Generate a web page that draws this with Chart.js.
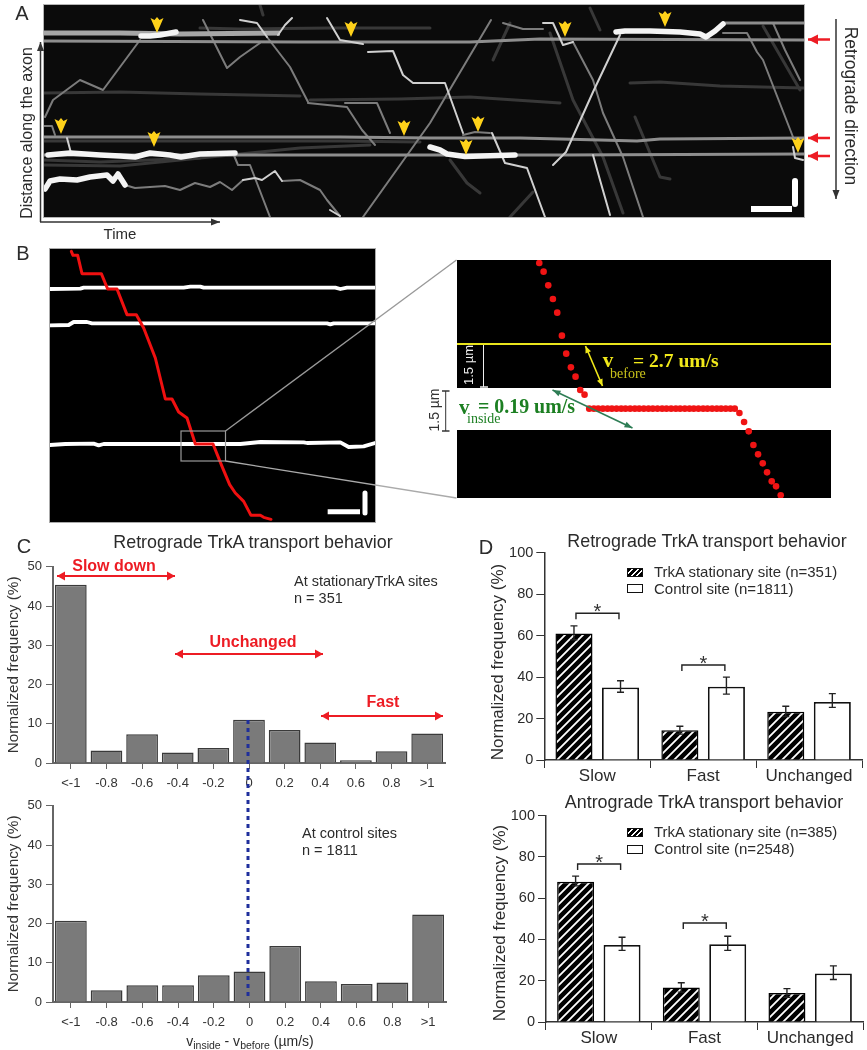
<!DOCTYPE html>
<html>
<head>
<meta charset="utf-8">
<script src="https://cdn.jsdelivr.net/npm/chart.js@4/dist/chart.umd.min.js"></script>
<style>
  html, body { margin: 0; padding: 0; background: #fff; }
  #page { position: relative; width: 867px; height: 1050px; overflow: hidden; font-family: "Liberation Sans", Arial, sans-serif; color: #2b2b2b; }
  #page canvas { position: absolute; }
  #page svg { position: absolute; left: 0; top: 0; z-index: 5; }
  .txt { position: absolute; white-space: nowrap; z-index: 6; line-height: 1; }
  .swatch { position: absolute; width: 14px; height: 7px; border: 1px solid #111; z-index: 6; box-sizing: content-box; }
  .hatched { background: repeating-linear-gradient(135deg, #000 0 2.5px, #fff 2.5px 4px); }
  .block { position: absolute; background: #000; }
  sub { font-size: 0.75em; vertical-align: -0.3em; line-height: 0; }
</style>
</head>
<body>
<div id="page"></div>
<script>
// panel C
const binLabels = ['<-1', '-0.8', '-0.6', '-0.4', '-0.2', '0', '0.2', '0.4', '0.6', '0.8', '>1']
const stationaryFreq = [45.4, 3.2, 7.3, 2.7, 3.8, 11, 8.4, 5.2, 0.7, 3, 7.5]
const controlFreq = [20.7, 3, 4.3, 4.3, 6.8, 7.8, 14.3, 5.3, 4.6, 5, 22.3]

// panel D
const behaviours = ['Slow', 'Fast', 'Unchanged']
const retroStationary = [61, 14.3, 23.3]
const retroStationaryHigh = [64.7, 16.3, 25.9]
const retroStationaryLow = [58, 12.5, 21]
const retroControl = [35, 35.3, 28]
const retroControlHigh = [38.2, 40, 32]
const retroControlLow = [32.7, 31.8, 25.4]
const retroBrackets = [70.8, 45.8, null]
const anteroStationary = [68, 16.7, 14]
const anteroStationaryHigh = [70.7, 19, 16.2]
const anteroStationaryLow = [66, 14.5, 12]
const anteroControl = [37.3, 37.7, 23.5]
const anteroControlHigh = [41.1, 41.6, 27.2]
const anteroControlLow = [34.7, 34.7, 20.6]
const anteroBrackets = [76.6, 48, null]

// panel A kymograph (time, distance)
const aFaintTracks = [
  [[44,93],[120,92],[200,94],[300,96]],
  [[310,100],[400,99],[470,97],[560,103]],
  [[630,83],[660,82],[720,86],[804,88]],
  [[200,28],[240,29],[330,28],[430,28]],
  [[44,160],[100,162],[150,160],[200,158]],
  [[44,165],[120,166],[180,160],[300,148],[370,145]],
  [[44,141],[200,141],[340,141],[420,142]],
  [[493,60],[510,23]],
  [[450,160],[467,183],[480,193]],
  [[533,192],[510,217]],
  [[635,117],[660,177],[670,179]],
  [[763,26],[800,90]],
  [[550,33],[573,100],[603,157],[623,213]],
  [[260,5],[263,15]],
  [[590,8],[600,30]]
]
const aMidTracks = [
  [[363,217],[430,123],[491,20]],
  [[45,117],[53,100],[80,80],[103,90],[140,40]],
  [[203,20],[227,68],[240,57],[260,43]],
  [[267,37],[290,67],[308,102]],
  [[308,103],[347,107],[362,130],[375,145]],
  [[345,103],[377,103],[390,133]],
  [[233,153],[238,165],[250,165],[270,217]],
  [[125,185],[135,188],[150,187],[165,186],[180,190],[195,183],[210,187],[220,182],[232,190],[243,180]],
  [[282,181],[300,180],[320,190],[327,200],[340,216]],
  [[503,23],[523,29],[543,29]],
  [[573,42],[593,80],[603,113],[623,157],[643,217]],
  [[723,33],[747,33],[757,52],[763,60],[793,137]],
  [[773,23],[785,50],[800,80]],
  [[463,135],[475,132],[490,133]],
  [[44,126],[52,126],[55,135]]
]
const aBandTracks = [
  [[44,33],[62,33],[120,33],[180,34],[280,33]]
]
const aStationaryTracks = [
  [[44,41],[300,42],[400,42],[470,42],[540,39],[804,40]],
  [[44,137],[200,137],[340,137],[430,138],[520,138],[600,140],[637,141],[660,139],[804,138]],
  [[44,155],[300,155],[420,155],[560,155],[804,154]],
  [[723,23],[804,23]]
]
const aBrightTracks = [
  [[278,35],[285,25],[292,18]],
  [[240,20],[257,23],[267,37]],
  [[327,18],[340,40],[363,44]],
  [[368,52],[393,51],[403,75],[413,83],[438,83],[445,83],[463,133]],
  [[67,138],[71,153]],
  [[492,133],[505,163],[527,168],[545,217]],
  [[543,23],[553,23],[563,45],[573,42]],
  [[553,165],[566,152],[593,92],[620,35]],
  [[793,147],[795,158],[803,160]],
  [[243,180],[255,178],[262,180],[275,171],[282,181]],
  [[593,155],[600,180],[610,215]],
  [[330,210],[340,216]]
]
const aThickTracks = [
  [[141,36],[150,36],[160,35],[176,32]],
  [[48,155],[70,153],[100,155],[120,156],[135,157],[150,153],[170,155],[181,157],[200,154],[235,153]],
  [[45,189],[50,181],[60,179],[77,180],[90,177],[107,175],[113,181],[118,174],[125,185]],
  [[616,32],[625,31],[650,31],[680,32],[700,34],[706,37],[715,31],[723,24]],
  [[430,147],[440,150],[447,154],[465,156.5],[515,155]]
]
const aArrowCentres = [[157,25],[351,29],[61,126],[154,139],[404,128],[478,124],[466,147],[565,29],[665,19],[798,145]]
const aScaleBars = [[[751,209],[792,209]], [[795,181],[795,204]]]

// panel B overview (reference pixels x3)
const bSites = [
  [[149,148],[240,147],[250,144],[550,144],[570,141],[600,141],[610,144],[1005,144],[1020,148],[1040,144],[1124,144]],
  [[149,257],[205,256],[220,247],[260,247],[275,251],[980,251],[990,254],[1000,251],[1124,251]],
  [[149,616],[195,613],[280,612],[295,617],[310,613],[720,613],[780,607],[910,608],[920,610],[1020,608],[1045,622],[1090,620],[1124,610]]
]
const bTrack = [[213,35],[218,47],[232,47],[245,102],[303,102],[322,148],[350,148],[380,225],[408,225],[430,265],[465,355],[495,478],[515,478],[535,517],[560,535],[585,613],[638,613],[665,680],[688,735],[705,760],[730,785],[752,827],[780,827],[790,833],[812,839]]
const bScaleBars = [[[982,816],[1079,816]], [[1094,760],[1094,820]]]

// panel B zoomed in
const zoomDots = [[327,40],[340,66],[354,107],[368,148],[381,189],[395,258],[408,312],[422,353],[436,381],[450,421],[463,435],
  [477,477],[491,477],[504,477],[518,477],[532,477],[545,477],[559,477],[573,477],[586,477],[600,477],[614,477],[627,477],[641,477],[655,477],[668,477],[682,477],[696,477],[709,477],[723,477],[737,477],[750,477],[764,477],[778,477],[791,477],[805,477],[819,477],[832,477],[846,477],[860,477],[873,477],[887,477],[901,477],[914,477],
  [928,490],[942,517],[956,545],[970,586],[984,614],[998,641],[1011,668],[1025,695],[1038,710],[1052,737]]
const zoomEdge = [[80,283],[1203,283]]

const page = document.getElementById('page')
Chart.defaults.font.family = '"Liberation Sans", Arial, sans-serif'
Chart.defaults.animation = false

function addCanvas(left, top, width, height) {
  const c = document.createElement('canvas')
  c.width = width
  c.height = height
  c.style.left = left + 'px'
  c.style.top = top + 'px'
  c.style.width = width + 'px'
  c.style.height = height + 'px'
  page.appendChild(c)
  return c
}

function toPoints(line) {
  return line.map((p) => ({ x: p[0], y: p[1] }))
}

function tracks(list, color, width, extra) {
  return list.map((line) => ({
    data: toPoints(line),
    showLine: true,
    borderColor: color,
    borderWidth: width,
    pointRadius: 0,
    tension: 0,
    borderJoinStyle: 'round',
    borderCapStyle: 'round',
    ...extra,
  }))
}

// image-like panels, axes hidden, data units map straight onto the panel
function imagePanel(left, top, right, bottom, xr, yr, datasets) {
  const c = addCanvas(Math.round(left), Math.round(top), Math.round(right - left), Math.round(bottom - top))
  new Chart(c, {
    type: 'scatter',
    data: { datasets },
    options: {
      responsive: false,
      layout: { padding: 0, autoPadding: false },
      plugins: { legend: { display: false }, tooltip: { enabled: false } },
      scales: {
        x: { type: 'linear', display: false, min: xr[0], max: xr[1] },
        y: { type: 'linear', display: false, min: yr[0], max: yr[1], reverse: true },
      },
    },
  })
  return c
}

function arrowHeadCanvas() {
  const c = document.createElement('canvas')
  c.width = 14
  c.height = 16
  const g = c.getContext('2d')
  g.fillStyle = '#ffd21a'
  g.beginPath()
  g.moveTo(7, 16)
  g.lineTo(0.5, 1)
  g.lineTo(4.5, 3)
  g.lineTo(7, 0)
  g.lineTo(9.5, 3)
  g.lineTo(13.5, 1)
  g.closePath()
  g.fill()
  return c
}

function hatchPattern() {
  const c = document.createElement('canvas')
  c.width = 9
  c.height = 9
  const g = c.getContext('2d')
  g.fillStyle = '#000'
  g.fillRect(0, 0, 9, 9)
  g.strokeStyle = '#fff'
  g.lineWidth = 1.8
  g.beginPath()
  g.moveTo(-2, 11)
  g.lineTo(11, -2)
  g.moveTo(-2, 2)
  g.lineTo(2, -2)
  g.moveTo(7, 11)
  g.lineTo(11, 7)
  g.stroke()
  return c.getContext('2d').createPattern(c, 'repeat')
}

// panel A
const panelA = imagePanel(44, 5, 804, 217, [44, 804], [5, 217], [
  { data: toPoints(aArrowCentres), pointStyle: arrowHeadCanvas(), pointRadius: 8 },
  ...tracks(aScaleBars, '#ffffff', 6, { borderCapStyle: 'butt' }),
  ...tracks(aThickTracks, '#f4f4f4', 5.5),
  ...tracks(aBrightTracks, '#d0d0d0', 2),
  ...tracks(aBandTracks, '#a6a6a6', 5, { borderCapStyle: 'butt' }),
  ...tracks(aStationaryTracks, '#8e8e8e', 3.2),
  ...tracks(aMidTracks, '#7c7c7c', 2),
  ...tracks(aFaintTracks, '#383838', 3),
])
panelA.style.background = '#0b0b0b'
panelA.style.filter = 'blur(0.7px)'
panelA.style.boxShadow = '0 0 0 1px #b5b5b5'

// panel B left
const panelB = imagePanel(50, 249, 375, 522, [149, 1124], [28, 847], [
  ...tracks(bScaleBars, '#ffffff', 5, { borderCapStyle: 'butt' }),
  ...tracks([bTrack], '#f01010', 3),
  ...tracks(bSites, '#ffffff', 3.8),
])
panelB.style.background = '#000'
panelB.style.boxShadow = '0 0 0 1px #aaa'

// panel B right
function block(left, top, w, h) {
  const d = document.createElement('div')
  d.className = 'block'
  d.style.cssText = `left:${left}px;top:${top}px;width:${w}px;height:${h}px`
  page.appendChild(d)
}
block(457, 260, 374, 128)
block(457, 430, 374, 68)
imagePanel(457, 260, 831, 498, [80, 1203], [31, 745], [
  { data: toPoints(zoomDots), pointRadius: 3.3, backgroundColor: '#f01414', borderWidth: 0 },
  ...tracks([zoomEdge], '#e8e41c', 2, { borderCapStyle: 'butt' }),
])

// histogram panels of C
function histogram(left, top, right, bottom, values) {
  const c = addCanvas(5, top - 10, Math.round(right + 8 - 5), bottom - top + 10 + 32)
  const offX = left - 5
  new Chart(c, {
    type: 'bar',
    data: {
      labels: binLabels,
      datasets: [{
        data: values,
        backgroundColor: '#7a7a7a',
        borderColor: '#3a3a3a',
        borderWidth: 1.5,
        barPercentage: 0.89,
        categoryPercentage: 1,
      }],
    },
    options: {
      responsive: false,
      layout: { padding: { left: 0, top: 10, right: 8, bottom: 0 }, autoPadding: false },
      plugins: { legend: { display: false }, tooltip: { enabled: false } },
      scales: {
        x: {
          grid: { offset: false, drawOnChartArea: false, tickLength: 6, color: '#666' },
          border: { color: '#666', width: 2 },
          ticks: { font: { size: 13 }, color: '#333', padding: 7, maxRotation: 0, autoSkip: false },
          afterFit: (a) => { a.height = 32 },
        },
        y: {
          min: 0,
          max: 50,
          grid: { drawOnChartArea: false, tickLength: 7, color: '#666' },
          border: { color: '#666', width: 2 },
          ticks: { stepSize: 10, font: { size: 13 }, color: '#333', padding: 4 },
          title: { display: true, text: 'Normalized frequency (%)', font: { size: 15.3 }, color: '#333', padding: 0 },
          afterFit: (a) => { a.width = offX },
        },
      },
    },
  })
}
histogram(53, 565, 445, 763, stationaryFreq)
histogram(53, 804, 446, 1002, controlFreq)

// whiskers and significance brackets for the D panels
function whiskerPlugin(highs, lows, brackets) {
  return {
    id: 'whiskers',
    afterDatasetsDraw(chart) {
      const ctx = chart.ctx
      const y = chart.scales.y
      ctx.save()
      ctx.strokeStyle = '#222'
      ctx.lineWidth = 1.4
      highs.forEach((high, ds) => {
        chart.getDatasetMeta(ds).data.forEach((bar, i) => {
          const top = y.getPixelForValue(high[i])
          const low = y.getPixelForValue(lows[ds][i])
          ctx.beginPath()
          ctx.moveTo(bar.x, top)
          ctx.lineTo(bar.x, low)
          ctx.moveTo(bar.x - 3.5, top)
          ctx.lineTo(bar.x + 3.5, top)
          ctx.moveTo(bar.x - 3.5, low)
          ctx.lineTo(bar.x + 3.5, low)
          ctx.stroke()
        })
      })
      chart.getDatasetMeta(0).data.forEach((bar, i) => {
        if (brackets[i] === null) return
        const by = y.getPixelForValue(brackets[i])
        const x0 = bar.x + 2
        const x1 = x0 + 43
        ctx.beginPath()
        ctx.moveTo(x0, by + 6)
        ctx.lineTo(x0, by)
        ctx.lineTo(x1, by)
        ctx.lineTo(x1, by + 6)
        ctx.stroke()
        ctx.fillStyle = '#333'
        ctx.font = '20px "Liberation Sans", Arial, sans-serif'
        ctx.textAlign = 'center'
        ctx.fillText('*', (x0 + x1) / 2, by + 5)
      })
      ctx.restore()
    },
  }
}

function groupChart(left, top, right, bottom, a, b, highs, lows, brackets) {
  const padL = left - 488
  const c = addCanvas(488, top - 10, Math.round(right + 4 - 488), bottom - top + 10 + 34)
  new Chart(c, {
    type: 'bar',
    data: {
      labels: behaviours,
      datasets: [
        { data: a, backgroundColor: hatchPattern(), borderColor: '#000', borderWidth: 1.5, barPercentage: 0.796, categoryPercentage: 0.879 },
        { data: b, backgroundColor: '#ffffff', borderColor: '#111', borderWidth: 1.8, barPercentage: 0.796, categoryPercentage: 0.879 },
      ],
    },
    options: {
      responsive: false,
      layout: { padding: { left: 0, top: 10, right: 4, bottom: 0 }, autoPadding: false },
      plugins: { legend: { display: false }, tooltip: { enabled: false } },
      scales: {
        x: {
          grid: { offset: true, drawOnChartArea: false, tickLength: 8, color: '#333' },
          border: { color: '#333', width: 1.5 },
          ticks: { font: { size: 17 }, color: '#2b2b2b', padding: -2, maxRotation: 0, autoSkip: false },
          afterFit: (s) => { s.height = 34 },
        },
        y: {
          min: 0,
          max: 100,
          grid: { drawOnChartArea: false, tickLength: 8, color: '#333' },
          border: { color: '#333', width: 1.5 },
          ticks: { stepSize: 20, font: { size: 14.5 }, color: '#2b2b2b', padding: 3 },
          afterFit: (s) => { s.width = padL },
        },
      },
    },
    plugins: [whiskerPlugin(highs, lows, brackets)],
  })
}
groupChart(544.3, 551, 861.7, 760, retroStationary, retroControl,
  [retroStationaryHigh, retroControlHigh], [retroStationaryLow, retroControlLow], retroBrackets)
groupChart(546, 814, 863, 1022, anteroStationary, anteroControl,
  [anteroStationaryHigh, anteroControlHigh], [anteroStationaryLow, anteroControlLow], anteroBrackets)

// labels
function label(html, x, y, style, anchor) {
  const d = document.createElement('div')
  d.className = 'txt'
  d.innerHTML = html
  d.style.cssText = `left:${x}px;top:${y}px;transform:${anchor || 'translate(-50%,-50%)'};${style || ''}`
  page.appendChild(d)
}
const LEFT = 'translate(0,-50%)'
const ROT_UP = 'translate(-50%,-50%) rotate(-90deg)'
const ROT_DOWN = 'translate(-50%,-50%) rotate(90deg)'
const serif = 'font-family:"Liberation Serif",serif;'
const RED = '#ed1c24'

label('A', 22, 13, 'font-size:20px')
label('B', 23, 253, 'font-size:20px')
label('C', 24, 546, 'font-size:20px')
label('D', 486, 547, 'font-size:20px')
label('Distance along the axon', 27, 133, 'font-size:16px', ROT_UP)
label('Time', 120, 233, 'font-size:15px')
label('Retrograde direction', 850, 106, 'font-size:17.5px', ROT_DOWN)

label('1.5 µm', 468, 365, 'font-size:13px;color:#eee', ROT_UP)
label('1.5 µm', 434, 410, 'font-size:14px;color:#333', ROT_UP)
label('v', 608, 360, serif + 'font-size:21px;font-weight:bold;color:#f0e81a')
label('= 2.7 um/s', 633, 361, serif + 'font-size:19.6px;font-weight:bold;color:#f0e81a', LEFT)
label('before', 610, 374, serif + 'font-size:14px;color:#c9c21a', LEFT)
label('v', 459, 407, serif + 'font-size:21px;font-weight:bold;color:#1c7f22', LEFT)
label('= 0.19 um/s', 478, 407, serif + 'font-size:19.9px;font-weight:bold;color:#1c7f22', LEFT)
label('inside', 467, 419, serif + 'font-size:14px;color:#1c7f22', LEFT)

label('Retrograde TrkA transport behavior', 253, 543, 'font-size:17.9px')
label('Slow down', 114, 566, `font-size:16px;font-weight:bold;color:${RED}`)
label('Unchanged', 253, 642, `font-size:16px;font-weight:bold;color:${RED}`)
label('Fast', 383, 702, `font-size:16px;font-weight:bold;color:${RED}`)
label('At stationaryTrkA sites', 294, 581, 'font-size:14.5px', LEFT)
label('n = 351', 294, 598, 'font-size:14.5px', LEFT)
label('At control sites', 302, 833, 'font-size:14.5px', LEFT)
label('n = 1811', 302, 850, 'font-size:14.5px', LEFT)
label('v<sub>inside</sub> - v<sub>before</sub> (µm/s)', 250, 1041, 'font-size:14px')

label('Retrograde TrkA transport behavior', 707, 542, 'font-size:17.9px')
label('Antrograde TrkA transport behavior', 704, 803, 'font-size:17.9px')
label('Normalized frequency (%)', 497, 662, 'font-size:17px', ROT_UP)
label('Normalized frequency (%)', 499, 923, 'font-size:17px', ROT_UP)
label('TrkA stationary site (n=351)', 654, 571, 'font-size:15px', LEFT)
label('Control site (n=1811)', 654, 588, 'font-size:15px', LEFT)
label('TrkA stationary site (n=385)', 654, 831, 'font-size:15px', LEFT)
label('Control site (n=2548)', 654, 848, 'font-size:15px', LEFT)

function swatch(x, y, hatched) {
  const d = document.createElement('div')
  d.className = 'swatch' + (hatched ? ' hatched' : '')
  d.style.left = x + 'px'
  d.style.top = y + 'px'
  page.appendChild(d)
}
swatch(627, 568, true)
swatch(627, 584, false)
swatch(627, 828, true)
swatch(627, 845, false)

// arrows and connector lines on top of everything
const NS = 'http://www.w3.org/2000/svg'
const svg = document.createElementNS(NS, 'svg')
svg.setAttribute('width', 867)
svg.setAttribute('height', 1050)
page.appendChild(svg)

function svgEl(name, attrs) {
  const e = document.createElementNS(NS, name)
  Object.entries(attrs).forEach(([k, v]) => e.setAttribute(k, v))
  svg.appendChild(e)
}
function head(x, y, ux, uy, color, len, half) {
  const bx = x - ux * len
  const by = y - uy * len
  svgEl('polygon', {
    points: `${x},${y} ${bx - uy * half},${by + ux * half} ${bx + uy * half},${by - ux * half}`,
    fill: color,
  })
}
function arrow(x1, y1, x2, y2, color, w, both, len, half) {
  const d = Math.hypot(x2 - x1, y2 - y1)
  const ux = (x2 - x1) / d
  const uy = (y2 - y1) / d
  svgEl('line', { x1, y1, x2, y2, stroke: color, 'stroke-width': w })
  head(x2, y2, ux, uy, color, len || 8, half || 4)
  if (both) head(x1, y1, -ux, -uy, color, len || 8, half || 4)
}
function seg(x1, y1, x2, y2, color, w, dash) {
  const a = { x1, y1, x2, y2, stroke: color, 'stroke-width': w }
  if (dash) a['stroke-dasharray'] = dash
  svgEl('line', a)
}

// panel A frame arrows
arrow(40.5, 222, 40.5, 42, '#333', 1.5, false, 9, 3.5)
arrow(40, 222, 220, 222, '#333', 1.5, false, 9, 3.5)
arrow(836, 19, 836, 199, '#333', 1.5, false, 9, 3.5)
arrow(830, 39.5, 808, 39.5, RED, 2.5, false, 10, 5)
arrow(830, 138, 808, 138, RED, 2.5, false, 10, 5)
arrow(830, 156, 808, 156, RED, 2.5, false, 10, 5)

// panel B zoom box
svgEl('rect', { x: 181, y: 431, width: 44.5, height: 30, fill: 'none', stroke: '#999', 'stroke-width': 1.2 })
seg(225.5, 431, 456.5, 260, '#999', 1.3)
seg(225.5, 461, 456.5, 498, '#aaa', 1.3)
// 1.5 um brackets
seg(483.5, 345, 483.5, 387, '#eee', 1)
seg(480, 387, 488, 387, '#eee', 1.5)
seg(445.7, 391, 445.7, 431, '#333', 1)
seg(442, 391, 449.5, 391, '#333', 1.5)
seg(442, 431, 449.5, 431, '#333', 1.5)
arrow(585.5, 346, 602.5, 386, '#f0e81a', 1.6, true, 7, 3)
arrow(552.5, 390, 632.5, 428, '#2e7d55', 1.6, true, 8, 3)

// panel C range arrows, dashed marker at zero
arrow(57, 576, 175, 576, RED, 2, true, 8, 4.5)
arrow(175, 654, 323, 654, RED, 2, true, 8, 4.5)
arrow(321, 716, 443, 716, RED, 2, true, 8, 4.5)
seg(248, 720, 248, 998, '#1f2f9c', 3, '4 4')
</script>
</body>
</html>
